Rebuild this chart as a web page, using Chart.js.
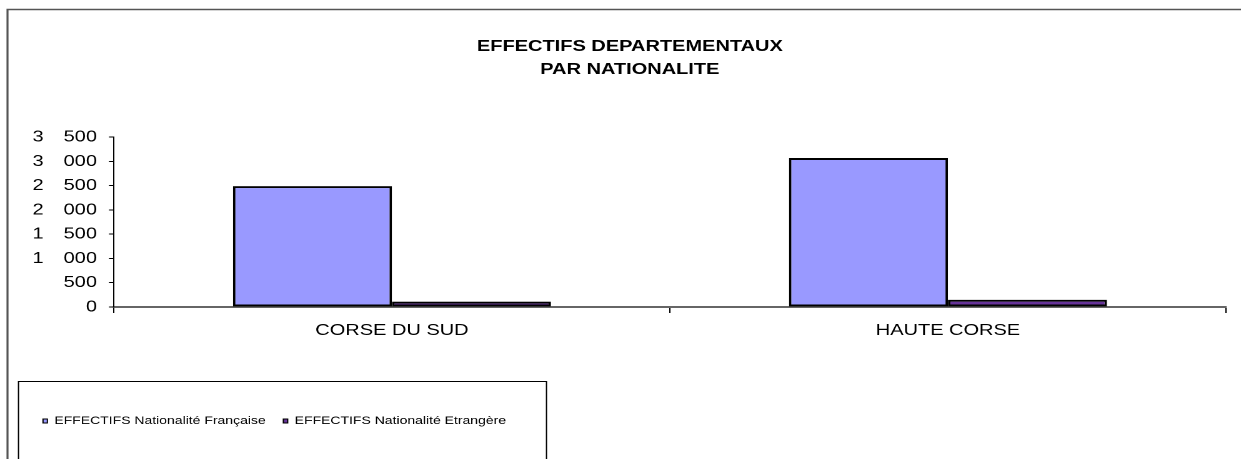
<!DOCTYPE html>
<html>
<head>
<meta charset="utf-8">
<script src="https://cdn.jsdelivr.net/npm/chart.js"></script>
<style>
  body { margin: 0; background: #fff; overflow: hidden; }
  /* le graphique d'origine est étiré horizontalement */
  #wrap { width: 993px; height: 459px; transform: scaleX(1.2497); transform-origin: 0 0; }
</style>
</head>
<body>
<div id="wrap"><canvas id="barChart" width="993" height="459" style="width:993px;height:459px"></canvas></div>
<script>
var categories = ['CORSE DU SUD', 'HAUTE CORSE'];
var francaise = [2490, 3070];
var etrangere = [110, 150];
var yMax = 3500;
var yStep = 500;

// séparateur de milliers large, comme dans l'original
function spaced(v) {
  return v.toString().replace(/\B(?=(\d{3})+(?!\d))/g, '\u2003');
}

// cadre du graphique, cadre de la légende, titre recentré
var framePlugin = {
  id: 'frame',
  afterLayout: function (chart) {
    var t = chart.titleBlock;
    if (t) { t.left += 3.35; t.right += 3.35; }
  },
  beforeDraw: function (chart) {
    var ctx = chart.ctx;
    ctx.save();
    ctx.fillStyle = '#fff';
    ctx.fillRect(0, 0, chart.width, chart.height);
    ctx.strokeStyle = '#555';
    ctx.lineWidth = 1.6;
    ctx.beginPath();
    ctx.moveTo(6, chart.height);
    ctx.lineTo(6, 9.5);
    ctx.lineTo(chart.width, 9.5);
    ctx.stroke();
    ctx.strokeStyle = '#000';
    ctx.lineWidth = 1;
    ctx.beginPath();
    ctx.moveTo(14.8, chart.height);
    ctx.lineTo(14.8, 381.5);
    ctx.lineTo(437.3, 381.5);
    ctx.lineTo(437.3, chart.height);
    ctx.stroke();
    ctx.restore();
  }
};

var barData = {
  labels: categories,
  datasets: [{
    label: 'EFFECTIFS Nationalité Française',
    data: francaise,
    backgroundColor: '#9999FF',
    borderColor: '#000',
    borderWidth: 2,
    borderSkipped: false
  }, {
    label: 'EFFECTIFS Nationalité Etrangère',
    data: etrangere,
    backgroundColor: '#663399',
    borderColor: '#000',
    borderWidth: 2,
    borderSkipped: false
  }]
};

var barConfig = {
  type: 'bar',
  data: barData,
  plugins: [framePlugin],
  options: {
    responsive: false,
    animation: false,
    devicePixelRatio: 2,
    categoryPercentage: 0.572,
    barPercentage: 1,
    layout: { padding: { left: 20.3, right: 12, top: 10, bottom: 22.4 } },
    plugins: {
      title: {
        display: true,
        text: ['EFFECTIFS DEPARTEMENTAUX', 'PAR NATIONALITE'],
        color: '#000',
        font: { family: 'Liberation Sans, Arial', size: 16, weight: 'bold', lineHeight: 1.44 },
        padding: { top: 25, bottom: 56 }
      },
      legend: {
        position: 'bottom',
        align: 'start',
        labels: {
          color: '#000',
          boxWidth: 3.5,
          boxHeight: 4,
          padding: 14.1,
          font: { family: 'Liberation Sans, Arial', size: 11.2 },
          generateLabels: function (chart) {
            var items = Chart.defaults.plugins.legend.labels.generateLabels(chart);
            items.forEach(function (it) { it.lineWidth = 1; });
            return items;
          }
        }
      },
      tooltip: { enabled: false }
    },
    scales: {
      x: {
        afterFit: function (scale) { scale.height = 94.3; },
        border: { color: '#666', width: 2 },
        grid: { drawOnChartArea: false, color: '#000', tickLength: 6 },
        ticks: {
          color: '#000',
          padding: 8,
          font: { family: 'Liberation Sans, Arial', size: 16 }
        }
      },
      y: {
        min: 0,
        max: yMax,
        afterFit: function (scale) { scale.width = 70.9; },
        border: { color: '#000', width: 1 },
        grid: { drawOnChartArea: false, color: '#000', tickLength: 4 },
        ticks: {
          stepSize: yStep,
          color: '#000',
          padding: 9.6,
          font: { family: 'Liberation Sans, Arial', size: 16 },
          callback: function (v) { return spaced(v); }
        }
      }
    }
  }
};

var barChart = new Chart(
  document.getElementById('barChart'),
  barConfig,
);
</script>
</body>
</html>
